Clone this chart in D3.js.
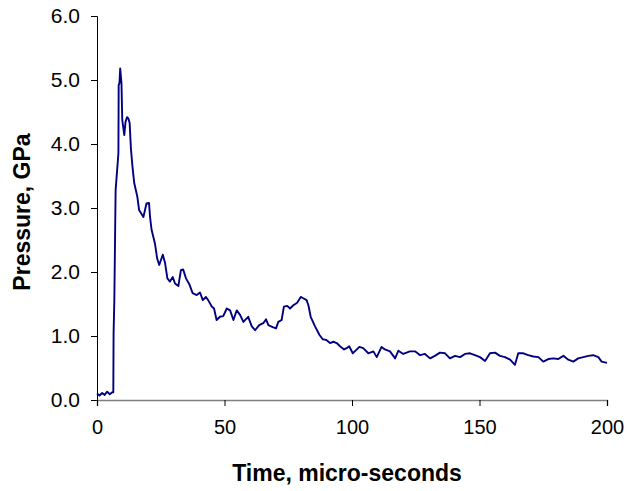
<!DOCTYPE html>
<html>
<head>
<meta charset="utf-8">
<script src="https://cdn.jsdelivr.net/npm/d3@7"></script>
<style>
  body { margin: 0; background: #fff; }
  svg text { font-family: Arial, "Liberation Sans", sans-serif; fill: #000; }
</style>
</head>
<body>
<div id="chart"></div>
<script>
// time (micro-seconds) and pressure (GPa)
let time = [0, 1, 2, 3, 4, 5, 6, 6.4, 6.5, 6.8, 7.3, 8.4, 8.5, 8.8, 9.1, 9.6, 9.9, 10.7, 11.2, 11.8,
    12.3, 12.8, 13.3, 13.9, 14.6, 15.8, 16.5, 18.2, 19.4, 20.4, 20.8, 21.4, 22.7, 23.6, 24.4, 25.8,
    26.7, 27.6, 28.6, 29.7, 30.6, 31.9, 32.9, 33.8, 34.9, 36.2, 37.5, 39.1, 40.4, 41.5, 42.7, 43.6,
    45.0, 45.9, 46.9, 48.2, 49.5, 50.9, 52.2, 53.5, 54.8, 56.1, 57.4, 59.3, 60.7, 62.0, 63.6, 65.2,
    66.3, 67.2, 68.9, 70.2, 71.1, 72.4, 73.3, 74.6, 75.7, 77.0, 78.5, 79.9, 80.9, 82.2, 82.9, 83.8,
    85.5, 87.2, 88.5, 89.8, 91.4, 92.7, 94.0, 95.3, 96.9, 97.9, 98.9, 100.3, 101.6, 102.9, 104.4,
    106.4, 108.4, 109.7, 111.6, 112.9, 114.9, 116.9, 118.2, 120.1, 122.7, 124.7, 126.7, 128.6, 130.6,
    132.5, 134.5, 136.5, 138.4, 140.4, 142.4, 144.3, 146.3, 148.2, 150.2, 152.2, 154.1, 156.1, 158.0,
    160.0, 162.0, 163.9, 165.2, 167.2, 169.1, 171.1, 173.1, 175.0, 177.0, 178.9, 180.9, 182.9, 184.8,
    186.8, 188.7, 190.7, 192.7, 194.6, 196.6, 197.9, 200];
let pressure = [0.10, 0.07, 0.11, 0.08, 0.13, 0.09, 0.12, 0.12, 1.04, 1.56, 3.28, 3.86, 4.92, 4.95, 5.18, 4.95, 4.38, 4.14, 4.35, 4.42,
    4.40, 4.33, 3.93, 3.65, 3.39, 3.18, 2.97, 2.86, 3.07, 3.08, 2.86, 2.66, 2.45, 2.21, 2.11, 2.27,
    2.14, 1.90, 1.85, 1.92, 1.82, 1.78, 2.03, 2.04, 1.90, 1.81, 1.67, 1.64, 1.68, 1.56, 1.61, 1.56,
    1.46, 1.43, 1.25, 1.30, 1.31, 1.43, 1.40, 1.25, 1.40, 1.33, 1.22, 1.30, 1.15, 1.09, 1.17, 1.20,
    1.26, 1.17, 1.14, 1.12, 1.22, 1.25, 1.46, 1.47, 1.43, 1.48, 1.52, 1.61, 1.59, 1.56, 1.48, 1.30,
    1.15, 1.02, 0.95, 0.94, 0.89, 0.91, 0.89, 0.84, 0.79, 0.81, 0.84, 0.73, 0.78, 0.83, 0.81,
    0.73, 0.76, 0.67, 0.83, 0.79, 0.76, 0.65, 0.77, 0.72, 0.76, 0.76, 0.70, 0.72, 0.65,
    0.69, 0.74, 0.73, 0.65, 0.69, 0.67, 0.72, 0.73, 0.70, 0.67, 0.61, 0.73, 0.74, 0.69,
    0.67, 0.63, 0.55, 0.73, 0.73, 0.70, 0.68, 0.67, 0.60, 0.64, 0.65, 0.64, 0.69, 0.63,
    0.60, 0.65, 0.67, 0.69, 0.70, 0.67, 0.60, 0.58];

let xTicks = [0, 50, 100, 150, 200];
let yTicks = [0, 1, 2, 3, 4, 5, 6];

let width = 641, height = 491;
let margin = { left: 97, right: 34, top: 16, bottom: 91 };

let svg = d3.select("#chart").append("svg")
    .attr("width", width)
    .attr("height", height);

let x = d3.scaleLinear().domain([0, 200]).range([margin.left, width - margin.right]);
let y = d3.scaleLinear().domain([0, 6]).range([height - margin.bottom, margin.top]);

// y axis
let yAxis = svg.append("g")
    .attr("transform", "translate(" + margin.left + ",0)")
    .call(d3.axisLeft(y).tickValues(yTicks).tickSize(6).tickPadding(11).tickFormat(d3.format(".1f")));
yAxis.select(".domain").attr("stroke", "#000");
yAxis.selectAll("text").style("font-size", "21px");

// x axis
let xAxis = svg.append("g")
    .attr("transform", "translate(0," + (height - margin.bottom) + ")")
    .call(d3.axisBottom(x).tickValues(xTicks).tickSize(6).tickPadding(14).tickSizeOuter(6));
xAxis.select(".domain").attr("stroke", "#808080").attr("stroke-width", 1.5);
xAxis.selectAll("line").attr("stroke", "#000");
xAxis.selectAll("text").style("font-size", "20px");

// the trace
let data = time.map(function (t, i) { return { t: t, p: pressure[i] }; });
let line = d3.line()
    .x(function (d) { return x(d.t); })
    .y(function (d) { return y(d.p); });

svg.append("path")
    .datum(data)
    .attr("fill", "none")
    .attr("stroke", "#000080")
    .attr("stroke-width", 1.9)
    .attr("stroke-linejoin", "round")
    .attr("d", line);

// axis titles
svg.append("text")
    .attr("x", 347)
    .attr("y", 481)
    .attr("text-anchor", "middle")
    .style("font-size", "23px")
    .style("font-weight", "bold")
    .text("Time, micro-seconds");

svg.append("text")
    .attr("transform", "translate(30,212) rotate(-90)")
    .attr("text-anchor", "middle")
    .style("font-size", "23px")
    .style("font-weight", "bold")
    .text("Pressure, GPa");
</script>
</body>
</html>
